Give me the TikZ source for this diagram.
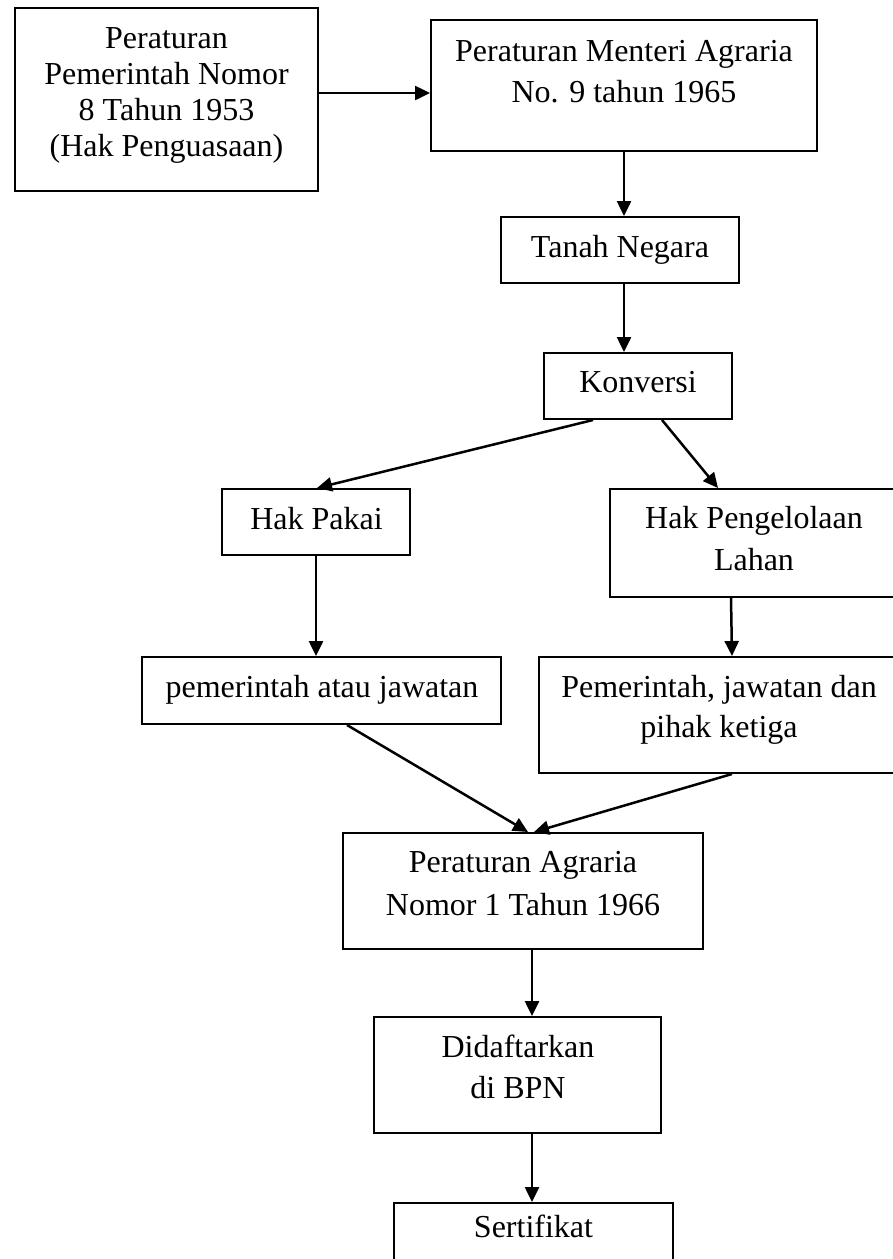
\documentclass[tikz,border=0pt]{standalone}
\usepackage{fontspec}
\setmainfont{Liberation Serif}
\usetikzlibrary{arrows.meta}
\begin{document}
\begin{tikzpicture}[x=1pt,y=-1pt,
  box/.style={draw, line width=2pt, inner sep=0pt},
  txt/.style={anchor=base, inner sep=0pt, font=\fontsize{32}{38}\selectfont},
  arr/.style={line width=2.5pt, -{Triangle[length=15pt,width=14pt]}}]
\useasboundingbox (0,0) rectangle (893,1259);
\fill[white] (0,0) rectangle (893,1259);
\clip (0,0) rectangle (893,1259);
% boxes
\node[box, minimum width=303pt, minimum height=183pt] (b1) at (166.5,99.5) {};
\node[box, minimum width=386pt, minimum height=131pt] (b2) at (624,85.5) {};
\node[box, minimum width=238pt, minimum height=66pt] (b3) at (620,250) {};
\node[box, minimum width=188pt, minimum height=66pt] (b4) at (638,386) {};
\node[box, minimum width=188pt, minimum height=66pt] (b5) at (316,522) {};
\node[box, minimum width=288pt, minimum height=108pt] (b6) at (754,543) {};
\node[box, minimum width=359pt, minimum height=67pt] (b7) at (321.5,690.5) {};
\node[box, minimum width=360pt, minimum height=116pt] (b8) at (719,715) {};
\node[box, minimum width=360pt, minimum height=116pt] (b9) at (523,891) {};
\node[box, minimum width=287pt, minimum height=116pt] (b10) at (517.5,1075) {};
\node[box, minimum width=279pt, minimum height=87pt] (b11) at (533.5,1246.5) {};
% texts
\node[txt] (t1a) at (166.5,48) {Peraturan};
\node[txt] (t1b) at (166.5,84) {Pemerintah Nomor};
\node[txt] (t1c) at (166.5,120) {8 Tahun 1953};
\node[txt] (t1d) at (166.5,156) {(Hak Penguasaan)};
\node[txt] (t2a) at (624,61) {Peraturan Menteri Agraria};
\node[txt] (t2b) at (624,102) {No. 9 tahun 1965};
\node[txt] (t3) at (620,257) {Tanah Negara};
\node[txt] (t4) at (638,392) {Konversi};
\node[txt] (t5) at (316.5,529) {Hak Pakai};
\node[txt] (t6a) at (754,528) {Hak Pengelolaan};
\node[txt] (t6b) at (754,570) {Lahan};
\node[txt] (t7) at (322,697) {pemerintah atau jawatan};
\node[txt] (t8a) at (719,697) {Pemerintah, jawatan dan};
\node[txt] (t8b) at (719,737) {pihak ketiga};
\node[txt] (t9a) at (523,872) {Peraturan Agraria};
\node[txt] (t9b) at (523,915) {Nomor 1 Tahun 1966};
\node[txt] (t10a) at (518,1057) {Didaftarkan};
\node[txt] (t10b) at (518,1098) {di BPN};
\node[txt] (t11) at (533.5,1237) {Sertifikat};
% connectors
\draw[arr] (b1.east |- 0,93) -- (b2.west |- 0,93);
\draw[arr] (624,0 |- b2.south) -- (624,0 |- b3.north);
\draw[arr] (624,0 |- b3.south) -- (624,0 |- b4.north);
\draw[arr] (593,0 |- b4.south) -- (317,0 |- b5.north);
\draw[arr] (662,0 |- b4.south) -- (718,0 |- b6.north);
\draw[arr] (316,0 |- b5.south) -- (316,0 |- b7.north);
\draw[arr] (731,0 |- b6.south) -- (732,0 |- b8.north);
\draw[arr] (347,0 |- b7.south) -- (528,0 |- b9.north);
\draw[arr] (732,0 |- b8.south) -- (534,0 |- b9.north);
\draw[arr] (532,0 |- b9.south) -- (532,0 |- b10.north);
\draw[arr] (532,0 |- b10.south) -- (532,0 |- b11.north);
\end{tikzpicture}
\end{document}
